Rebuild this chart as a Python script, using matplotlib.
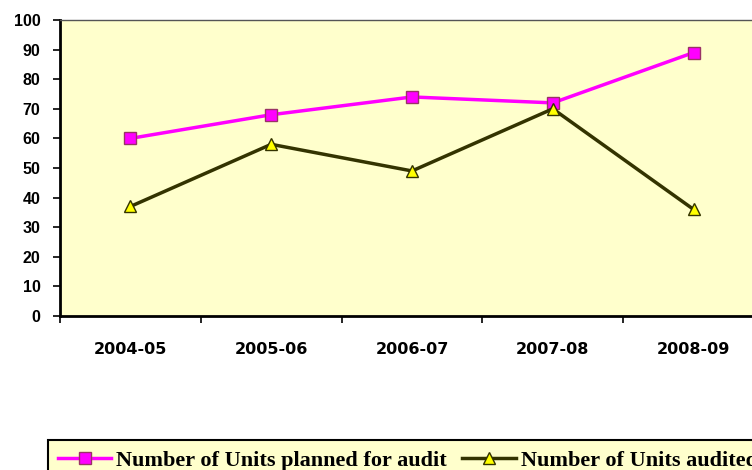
import matplotlib
matplotlib.use("Agg")
import matplotlib.pyplot as plt
import numpy as np

categories = ["2004-05", "2005-06", "2006-07", "2007-08", "2008-09"]
planned = [60, 68, 74, 72, 89]
audited = [37, 58, 49, 70, 36]
yticks = [0, 10, 20, 30, 40, 50, 60, 70, 80, 90, 100]

fig = plt.figure(figsize=(7.52, 4.70), dpi=100)
ax = fig.add_axes([60/752, 1-316/470, 704/752, 296/470])
ax.set_facecolor("#FFFFCC")

x = np.arange(len(categories)) + 0.5
ax.plot(x, planned, color="#FF00FF", lw=2.5, marker="s", markersize=8,
        markerfacecolor="#FF00FF", markeredgecolor="#993366", markeredgewidth=1,
        label="Number of Units planned for audit", zorder=3)
ax.plot(x, audited, color="#333300", lw=2.5, marker="^", markersize=9,
        markerfacecolor="#FFFF00", markeredgecolor="#333300", markeredgewidth=1,
        label="Number of Units audited", zorder=3)

ax.set_xlim(0, len(categories))
ax.set_ylim(0, 100)
ax.set_yticks(yticks)
ax.set_yticklabels([str(v) for v in yticks], fontsize=11.5, fontweight="bold",
                   family="Liberation Sans")
ax.set_xticks(np.arange(len(categories) + 1))
ax.set_xticklabels([])
ax.set_xticks(x, minor=True)
ax.set_xticklabels(categories, minor=True, fontsize=11.5, fontweight="bold",
                   family="DejaVu Sans")
ax.tick_params(axis="x", which="minor", length=0, pad=19)
ax.tick_params(axis="x", which="major", length=5, width=1.2, direction="out")
ax.tick_params(axis="y", length=5, width=1.2, direction="out", pad=9)

for s in ["left", "bottom"]:
    ax.spines[s].set_linewidth(2)
ax.spines["top"].set_linewidth(1)
ax.spines["top"].set_color("#555555")
ax.spines["right"].set_visible(False)

leg = fig.legend(loc="upper left", bbox_to_anchor=(48/752, 1-440/470),
                 ncol=2, frameon=True, fancybox=False, handlelength=2.4,
                 columnspacing=0.68, handletextpad=0.23, borderpad=0.45,
                 borderaxespad=0,
                 prop={"family": "Liberation Serif", "weight": "bold", "size": 16})
leg.get_frame().set_facecolor("#FFFFCC")
leg.get_frame().set_edgecolor("black")
leg.get_frame().set_linewidth(1.5)
leg.get_frame().set_alpha(1)

fig.savefig("out.png", dpi=100)
